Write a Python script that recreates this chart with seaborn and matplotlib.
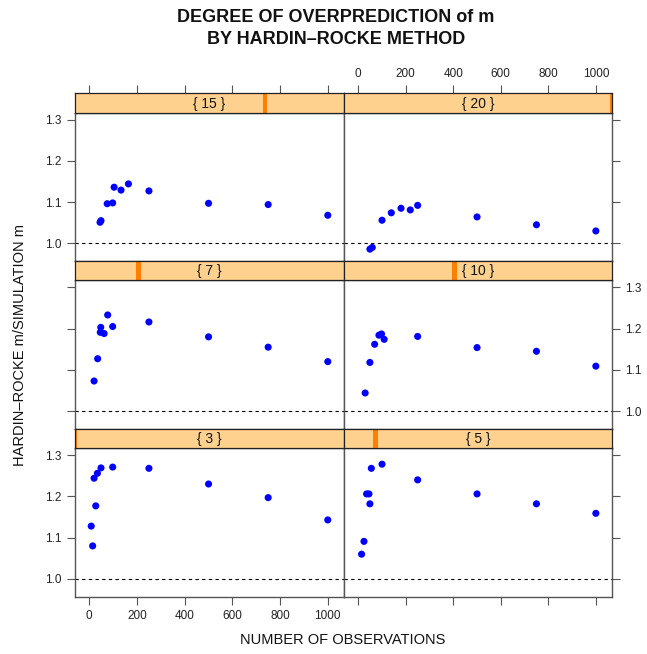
import matplotlib
matplotlib.use('Agg')
import matplotlib.pyplot as plt
import seaborn as sns
import pandas as pd
from matplotlib.patches import Rectangle

sns.set_theme(style='white')
plt.rcParams['font.family'] = ['Liberation Sans', 'DejaVu Sans']

# ---- data ----
levels = [3, 5, 7, 10, 15, 20]
n_3 = [14, 8, 27, 20, 34, 49, 98, 250, 500, 750, 1000]
r_3 = [1.080, 1.128, 1.177, 1.244, 1.256, 1.269, 1.271, 1.268, 1.230, 1.197, 1.143]
n_5 = [14, 24, 49, 35, 45, 55, 100, 250, 500, 750, 1000]
r_5 = [1.060, 1.091, 1.182, 1.206, 1.206, 1.268, 1.278, 1.240, 1.206, 1.182, 1.159]
n_7 = [20, 35, 46, 48, 62, 77, 98, 250, 500, 750, 1000]
r_7 = [1.073, 1.127, 1.191, 1.203, 1.188, 1.233, 1.205, 1.216, 1.180, 1.155, 1.120]
n_10 = [29, 49, 69, 87, 98, 109, 250, 500, 750, 1000]
r_10 = [1.044, 1.118, 1.162, 1.184, 1.187, 1.174, 1.181, 1.154, 1.145, 1.109]
n_15 = [45, 49, 75, 98, 104, 133, 164, 250, 500, 750, 1000]
r_15 = [1.051, 1.055, 1.096, 1.098, 1.136, 1.129, 1.144, 1.127, 1.097, 1.094, 1.068]
n_20 = [49, 59, 100, 139, 180, 219, 250, 500, 750, 1000]
r_20 = [0.986, 0.990, 1.056, 1.074, 1.085, 1.081, 1.092, 1.064, 1.045, 1.030]
x_ticks = [0, 200, 400, 600, 800, 1000]
y_ticks = [1.0, 1.1, 1.2, 1.3]

series = {3: (n_3, r_3), 5: (n_5, r_5), 7: (n_7, r_7),
          10: (n_10, r_10), 15: (n_15, r_15), 20: (n_20, r_20)}
df = pd.concat([pd.DataFrame({'n': v[0], 'ratio': v[1], 'level': k})
                for k, v in series.items()], ignore_index=True)

W, H = 647, 654
fig = plt.figure(figsize=(W / 100, H / 100), dpi=100)

cols_x = [(75, 344), (344, 612)]
layout = [[15, 20], [7, 10], [3, 5]]
top0 = 93.3
strip_h = 19.4
panel_h = 148.4
frame_col = '#555555'
lo, hi = min(levels), max(levels)

for r, row in enumerate(layout):
    s_top = top0 + r * (strip_h + panel_h)
    p_top = s_top + strip_h
    p_bot = p_top + panel_h
    for c, lv in enumerate(row):
        x0, x1 = cols_x[c]
        ax = fig.add_axes([x0 / W, 1 - p_bot / H, (x1 - x0) / W, panel_h / H])
        sax = fig.add_axes([x0 / W, 1 - p_top / H, (x1 - x0) / W, strip_h / H])

        sub = df[df['level'] == lv]
        ax.axhline(1.0, color='black', lw=0.8, ls=(0, (3, 3)), zorder=1)
        sns.scatterplot(data=sub, x='n', y='ratio', ax=ax, color='#0000FF',
                        s=26, edgecolor='none', linewidth=0, legend=False, zorder=3)
        ax.set_xlim(-60, 1068)
        ax.set_ylim(0.957, 1.3165)
        ax.set_xlabel('')
        ax.set_ylabel('')
        ax.set_xticks(x_ticks)
        ax.set_yticks(y_ticks)
        ax.set_yticklabels(['%.1f' % v for v in y_ticks])
        for sp in ax.spines.values():
            sp.set_color(frame_col)
            sp.set_linewidth(1.0)
        ax.tick_params(axis='both', direction='out', length=5.5, width=0.8,
                       color=frame_col, labelsize=8.5, pad=4, labelcolor='#222222')
        ax.tick_params(left=(c == 0), right=(c == 1),
                       labelleft=(c == 0 and r in (0, 2)),
                       labelright=(c == 1 and r == 1),
                       bottom=(r == 2), labelbottom=(r == 2 and c == 0),
                       top=False, labeltop=False)

        # strip
        sax.set_facecolor('#FFD18F')
        sax.set_xlim(-60, 1068)
        sax.set_ylim(0, 1)
        sax.set_yticks([])
        for sp in sax.spines.values():
            sp.set_color('#222222')
            sp.set_linewidth(0.9)
        bw = 4.6 / (x1 - x0)
        frac = (lv - lo) / (hi - lo)
        sax.add_patch(Rectangle((frac - bw / 2, 0), bw, 1, transform=sax.transAxes,
                                color='#FF7F00', lw=0, clip_on=True, zorder=1))
        sax.text(0.5, 0.47, '{ %d }' % lv, transform=sax.transAxes, ha='center',
                 va='center', fontsize=10, color='#111111', zorder=3)
        if r == 0:
            sax.set_xticks(x_ticks)
            sax.tick_params(axis='x', direction='out', length=5.5, width=0.8,
                            color=frame_col, labelsize=8.5, pad=4, labelcolor='#222222',
                            top=True, labeltop=(c == 1), bottom=False, labelbottom=False)
        else:
            sax.set_xticks([])

fig.text(336 / W, 1 - 17 / H, 'DEGREE OF OVERPREDICTION of m', ha='center', va='center',
         fontsize=13, fontweight='bold', color='#111111')
fig.text(336 / W, 1 - 40 / H, 'BY HARDIN\u2013ROCKE METHOD', ha='center', va='center',
         fontsize=13, fontweight='bold', color='#111111')
fig.text(20 / W, 1 - 345 / H, 'HARDIN\u2013ROCKE m/SIMULATION m', rotation=90,
         ha='center', va='center', fontsize=10.5, color='#111111')
fig.text(343 / W, 1 - 640 / H, 'NUMBER OF OBSERVATIONS', ha='center', va='center',
         fontsize=10.5, color='#111111')

fig.savefig('out.png', dpi=100)
